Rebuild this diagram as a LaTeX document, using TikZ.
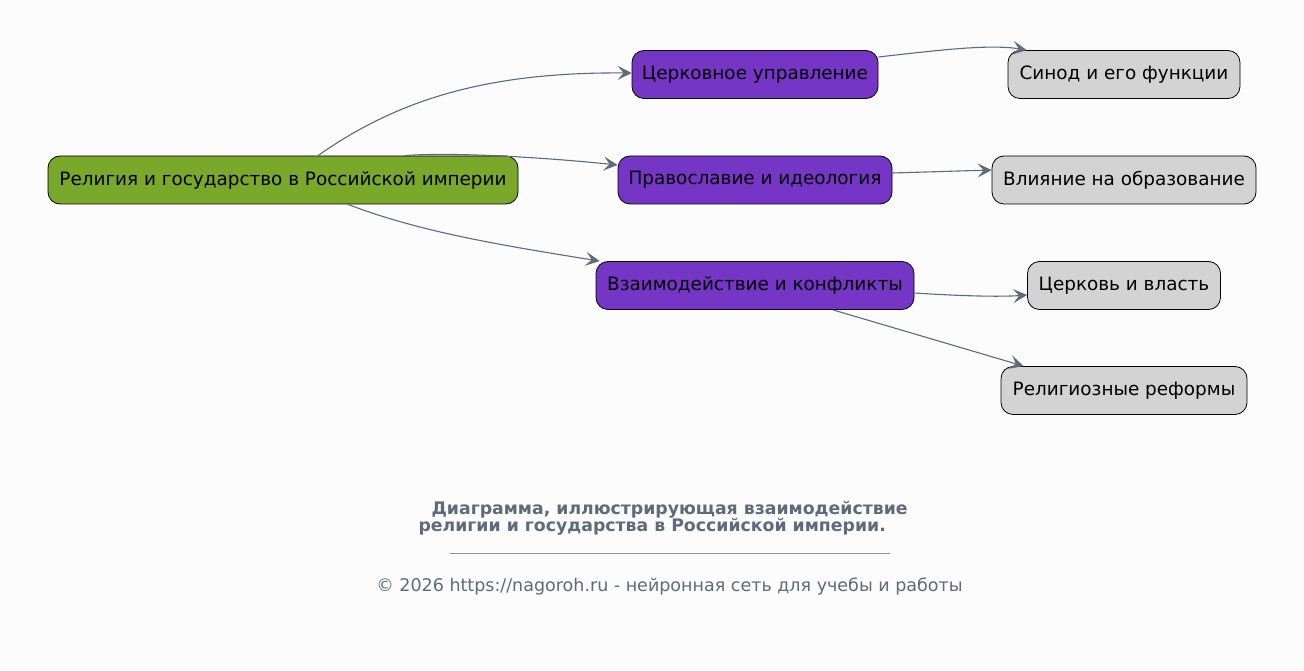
\documentclass[tikz,border=0pt]{standalone}
\usepackage{fontspec}
\setmainfont{DejaVu Sans}
\usetikzlibrary{arrows.meta}
\definecolor{bg}{HTML}{FCFCFC}
\definecolor{edge}{HTML}{5F6B7A}
\definecolor{rootc}{HTML}{7AA82B}
\definecolor{midc}{HTML}{7535C5}
\definecolor{leafc}{HTML}{D3D3D3}
\definecolor{rulec}{HTML}{8A929C}
\tikzset{
  box/.style={draw=black, line width=0.8pt, rounded corners=12pt, minimum height=48pt, inner sep=0pt, font=\fontsize{18.4}{22}\selectfont, text=black},
  rootbox/.style={box, fill=rootc},
  midbox/.style={box, fill=midc},
  leafbox/.style={box, fill=leafc},
  conn/.style={draw=edge, line width=1.1pt, -{Stealth[length=14pt, width=14pt, inset=6pt]}},
  captext/.style={text=edge, font=\fontsize{17.3}{20}\selectfont\bfseries},
}
\begin{document}
\begin{tikzpicture}[x=1pt,y=-1pt]
\fill[bg] (0,0) rectangle (1304,671);
\useasboundingbox (0,0) rectangle (1304,671);
\node[rootbox, minimum width=470pt] (root) at (283,180) {Религия и государство в Российской империи};
\node[midbox, minimum width=246pt] (m1) at (755,74.5) {Церковное управление};
\node[midbox, minimum width=274pt] (m2) at (755,180) {Православие и идеология};
\node[midbox, minimum width=318pt] (m3) at (755,285.5) {Взаимодействие и конфликты};
\node[leafbox, minimum width=232pt] (l1) at (1124,74.5) {Синод и его функции};
\node[leafbox, minimum width=264pt] (l2) at (1124,180) {Влияние на образование};
\node[leafbox, minimum width=193pt] (l3) at (1124,285.5) {Церковь и власть};
\node[leafbox, minimum width=246pt] (l4) at (1124,390.5) {Религиозные реформы};
\draw[conn] ([xshift=35pt]root.north) .. controls (400,98) and (490,72) .. ([yshift=1.5pt]m1.west);
\draw[conn] ([xshift=122pt]root.north) .. controls (450,152) and (540,157) .. ([yshift=15pt]m2.west);
\draw[conn] ([xshift=65pt]root.south) .. controls (420,232) and (500,245) .. ([xshift=4pt]m3.north west);
\draw[conn] ([yshift=17.5pt]m1.east) .. controls (940,50) and (990,44) .. ([xshift=19pt]l1.north west);
\draw[conn] ([yshift=7pt]m2.east) -- ([yshift=10pt]l2.west);
\draw[conn] ([yshift=-7.5pt]m3.east) .. controls (960,296) and (1000,297) .. ([yshift=-9.5pt]l3.west);
\draw[conn] ([xshift=78pt]m3.south) -- ([xshift=23pt]l4.north west);
\node[captext, anchor=west] (c1) at (428,510) {Диаграмма, иллюстрирующая взаимодействие};
\node[captext, anchor=west] (c2) at (415,527) {религии и государства в Российской империи.};
\draw[rulec, line width=0.5pt] (450,553) -- (890,553);
\node[text=edge, font=\fontsize{17.5}{20}\selectfont] (copy) at (669.5,587) {© 2026 https://nagoroh.ru - нейронная сеть для учебы и работы};
\end{tikzpicture}
\end{document}
